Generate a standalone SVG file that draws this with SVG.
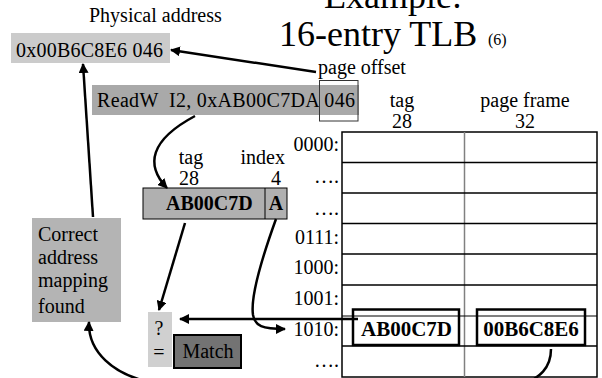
<svg xmlns="http://www.w3.org/2000/svg" width="602" height="378" viewBox="0 0 602 378">
<style>
text{font-family:"Liberation Serif","Times New Roman",serif;fill:#000;font-size:20px}
.b{font-weight:bold}
.e{text-anchor:end}
.m{text-anchor:middle}
.con{fill:none;stroke:#000;stroke-width:2.5}
.row{stroke:#000;stroke-width:1.5}
.hl{fill:none;stroke:#000;stroke-width:2.5}
</style>
<defs>
<marker id="ah" viewBox="0 0 10 10" refX="9" refY="5" markerWidth="4" markerHeight="4" orient="auto" markerUnits="strokeWidth">
<path d="M0,0 L10,5 L0,10 z" fill="#000"/>
</marker>
</defs>
<rect width="602" height="378" fill="#fff"/>
<g id="title">
<text x="393" y="8" class="m" style="font-size:36px">Example:</text>
<text x="279" y="46" style="font-size:36px">16-entry TLB</text>
<text x="488" y="45" style="font-size:16px">(6)</text>
</g>
<g id="physical">
<text x="89" y="22">Physical address</text>
<rect x="11" y="33" width="159" height="30" fill="#cbcbcb"/>
<text x="16" y="57" textLength="147" lengthAdjust="spacing">0x00B6C8E6 046</text>
</g>
<g id="readw">
<rect x="92" y="85" width="267" height="30" fill="#a9a9a9"/>
<text x="97" y="107" xml:space="preserve" textLength="258" lengthAdjust="spacing">ReadW  I2, 0xAB00C7DA 046</text>
<rect x="319.5" y="80.5" width="38.5" height="40.5" fill="none" stroke="#333" stroke-width="1"/>
<text x="318" y="74">page offset</text>
</g>
<g id="split">
<text x="191" y="164" class="m">tag</text>
<text x="189" y="185" class="m">28</text>
<text x="285" y="164" class="e">index</text>
<text x="281" y="185" class="e">4</text>
<rect x="143" y="188" width="144" height="31" fill="#b0b0b0" stroke="#000" stroke-width="1"/>
<line x1="265" y1="188" x2="265" y2="219" stroke="#000" stroke-width="1"/>
<text x="166" y="210" class="b">AB00C7D</text>
<text x="276" y="210" class="b m">A</text>
</g>
<g id="correct">
<rect x="32" y="218" width="89" height="104" fill="#b4b4b4"/>
<text x="38" y="241">Correct</text>
<text x="38" y="264">address</text>
<text x="38" y="287">mapping</text>
<text x="38" y="313">found</text>
</g>
<g id="compare">
<rect x="148" y="312" width="24" height="55" fill="#d0d0d0"/>
<text x="159" y="335" class="m">?</text>
<text x="159" y="359" class="m">=</text>
</g>
<g id="match">
<rect x="174" y="335" width="67" height="33" fill="#737373" stroke="#000" stroke-width="2"/>
<text x="208" y="358" class="m">Match</text>
</g>
<g id="tlb">
<text x="402" y="107" class="m">tag</text>
<text x="402" y="128" class="m">28</text>
<text x="525" y="107" class="m">page frame</text>
<text x="525" y="128" class="m">32</text>
<rect x="342" y="132" width="255" height="245" fill="#fff" stroke="#000" stroke-width="1.5"/>
<line x1="464.5" y1="132" x2="464.5" y2="377" stroke="#808080" stroke-width="1.5"/>
<line class="row" x1="342" y1="162.5" x2="597" y2="162.5"/>
<line class="row" x1="342" y1="193" x2="597" y2="193"/>
<line class="row" x1="342" y1="223.5" x2="597" y2="223.5"/>
<line class="row" x1="342" y1="254" x2="597" y2="254"/>
<line class="row" x1="342" y1="285" x2="597" y2="285"/>
<line x1="342" y1="316" x2="597" y2="316" stroke="#000" stroke-width="1"/>
<line class="row" x1="342" y1="346" x2="597" y2="346"/>
<text x="339" y="151" class="e">0000:</text>
<text x="339" y="183" class="e">….</text>
<text x="339" y="215" class="e">….</text>
<text x="339" y="244" class="e">0111:</text>
<text x="339" y="274" class="e">1000:</text>
<text x="339" y="305" class="e">1001:</text>
<text x="339" y="336" class="e">1010:</text>
<text x="339" y="367" class="e">….</text>
<rect x="353" y="309.5" width="106" height="35.5" fill="#fff" class="hl"/>
<text x="361" y="336" class="b" style="font-size:21px">AB00C7D</text>
<rect x="477" y="309.5" width="108" height="35.5" fill="#fff" class="hl"/>
<text x="531" y="336" class="b m" style="font-size:21px">00B6C8E6</text>
</g>
<g id="connectors">
<line class="con" x1="316" y1="72" x2="171" y2="50" marker-end="url(#ah)"/>
<line class="con" x1="93" y1="217" x2="83" y2="64" marker-end="url(#ah)"/>
<path class="con" d="M195,116 C150,140 145,165 167,188" marker-end="url(#ah)"/>
<line class="con" x1="185" y1="223" x2="159" y2="310" marker-end="url(#ah)"/>
<line class="con" x1="358" y1="319" x2="180" y2="319" marker-end="url(#ah)"/>
<path class="con" d="M276,219 C263,255 250,295 253,315 C255,326 262,329 285,329" marker-end="url(#ah)"/>
<path class="con" d="M551,349 C551,368 540,378 520,386 L175,386 C105,380 88,345 89,322" marker-end="url(#ah)"/>
</g>
</svg>
